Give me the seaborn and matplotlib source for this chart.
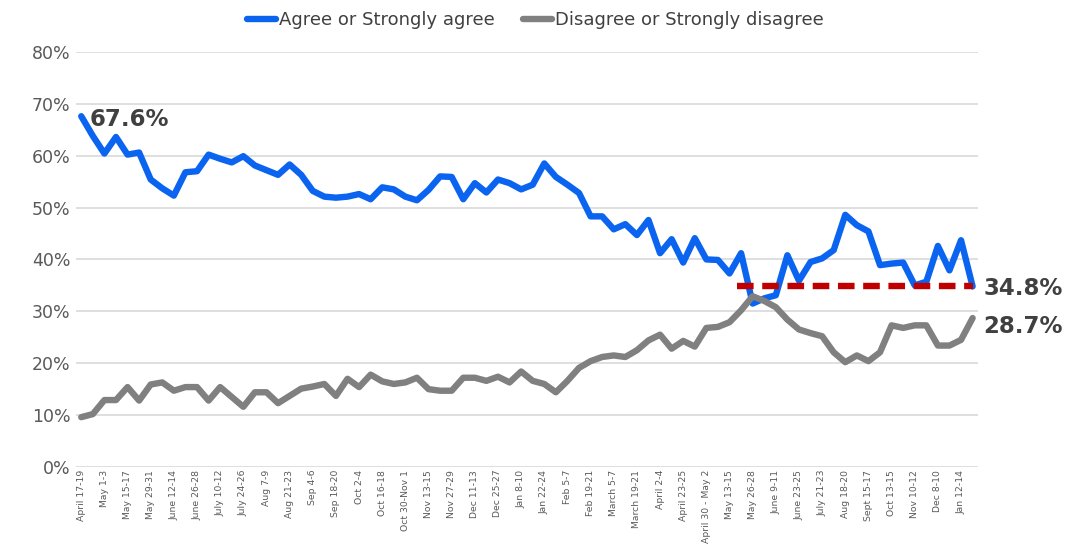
import numpy as np
import pandas as pd
import matplotlib
matplotlib.use("Agg")
import matplotlib.pyplot as plt
import seaborn as sns

# poll series (percent), one value per survey wave
agree = [67.6, 63.8, 60.4, 63.6, 60.2, 60.6, 55.4, 53.7, 52.3, 56.8,
         57.0, 60.2, 59.4, 58.7, 59.9, 58.1, 57.2, 56.3, 58.3, 56.3,
         53.2, 52.1, 51.9, 52.1, 52.6, 51.6, 53.9, 53.5, 52.1, 51.4,
         53.4, 56.0, 55.9, 51.6, 54.7, 52.9, 55.4, 54.7, 53.5, 54.4,
         58.5, 55.9, 54.4, 52.8, 48.3, 48.3, 45.8, 46.8, 44.7, 47.6,
         41.2, 43.9, 39.4, 44.1, 40.0, 39.9, 37.3, 41.2, 31.5, 32.5,
         33.1, 40.8, 35.9, 39.5, 40.2, 41.8, 48.6, 46.6, 45.4, 38.9,
         39.2, 39.4, 35.0, 35.7, 42.6, 37.9, 43.7, 34.8]

disagree = [9.6, 10.2, 12.9, 12.9, 15.4, 12.8, 15.9, 16.3, 14.7, 15.4,
            15.4, 12.8, 15.4, 13.5, 11.6, 14.4, 14.4, 12.3, 13.7, 15.1,
            15.5, 16.0, 13.7, 17.0, 15.4, 17.8, 16.5, 16.0, 16.3, 17.2,
            15.0, 14.7, 14.7, 17.2, 17.2, 16.6, 17.4, 16.3, 18.4, 16.6,
            16.0, 14.4, 16.6, 19.1, 20.4, 21.2, 21.5, 21.2, 22.5, 24.4,
            25.5, 22.8, 24.3, 23.2, 26.8, 27.0, 27.9, 30.2, 32.9, 32.0,
            30.8, 28.4, 26.5, 25.8, 25.2, 22.1, 20.2, 21.5, 20.4, 22.1,
            27.3, 26.8, 27.3, 27.3, 23.4, 23.4, 24.5, 28.7]

# every other wave gets a label
tick_labels = ["April 17-19", "May 1-3", "May 15-17", "May 29-31", "June 12-14",
               "June 26-28", "July 10-12", "July 24-26", "Aug 7-9", "Aug 21-23",
               "Sep 4-6", "Sep 18-20", "Oct 2-4", "Oct 16-18", "Oct 30-Nov 1",
               "Nov 13-15", "Nov 27-29", "Dec 11-13", "Dec 25-27", "Jan 8-10",
               "Jan 22-24", "Feb 5-7", "Feb 19-21", "March 5-7", "March 19-21",
               "April 2-4", "April 23-25", "April 30 - May 2", "May 13-15",
               "May 26-28", "June 9-11", "June 23-25", "July 21-23", "Aug 18-20",
               "Sept 15-17", "Oct 13-15", "Nov 10-12", "Dec 8-10", "Jan 12-14"]

series_names = ["Agree or Strongly agree", "Disagree or Strongly disagree"]
ref_level = 34.8
ref_start = 56.65

n = len(agree)
df = pd.DataFrame({
    "wave": list(range(n)) * 2,
    "pct": agree + disagree,
    "series": [series_names[0]] * n + [series_names[1]] * n,
})

sns.set_theme(style="white")
plt.rcParams["font.family"] = ["DejaVu Sans"]

fig = plt.figure(figsize=(10.71, 5.46), dpi=100)
ax = fig.add_axes([0.071, 0.1447, 0.842, 0.7603])

ax.set_ylim(0, 80)
ax.set_yticks(np.arange(0, 81, 10))
ax.yaxis.grid(True, color="#D9D9D9", linewidth=1.2)
ax.set_axisbelow(True)

sns.lineplot(data=df, x="wave", y="pct", hue="series", ax=ax,
             palette={series_names[0]: "#0A64F0", series_names[1]: "#808080"},
             linewidth=4.6, legend=True)

ax.hlines(ref_level, ref_start, n - 1, color="#C00000", linewidth=4.6,
          linestyles=(0, (2.6, 1.35)), zorder=3)
# grey series sits on top of the dashed line and the blue one
ax.get_lines()[1].set_zorder(4)

ax.set_xlim(-0.45, n - 1 + 0.45)
ax.set_xticks(np.arange(0, n, 2))
ax.set_xticklabels(tick_labels, rotation=90, fontsize=6.7, color="#595959")
ax.set_yticklabels([f"{v}%" for v in range(0, 81, 10)], fontsize=12.5, color="#595959")
ax.tick_params(axis="y", length=0, pad=4)
ax.tick_params(axis="x", length=0, pad=2)
ax.set_xlabel("")
ax.set_ylabel("")
for s in ax.spines.values():
    s.set_visible(False)

# value callouts
ax.text(0.75, agree[0] - 0.6, f"{agree[0]}%", ha="left", va="center",
        fontsize=16.5, fontweight="bold", color="#404040")
ax.text(n - 1 + 0.95, ref_level - 0.4, f"{ref_level}%", ha="left", va="center",
        fontsize=16.5, fontweight="bold", color="#404040", clip_on=False)
ax.text(n - 1 + 0.95, disagree[-1] - 1.6, f"{disagree[-1]}%", ha="left", va="center",
        fontsize=16.5, fontweight="bold", color="#404040", clip_on=False)

leg = ax.legend(loc="center", bbox_to_anchor=(0.5, 0.963), bbox_transform=fig.transFigure,
                ncol=2, frameon=False, fontsize=13, handlelength=1.6,
                handletextpad=0.15, columnspacing=1.6, labelcolor="#404040")
for h in leg.get_lines():
    h.set_linewidth(4.6)

fig.savefig("out.png", dpi=100)
